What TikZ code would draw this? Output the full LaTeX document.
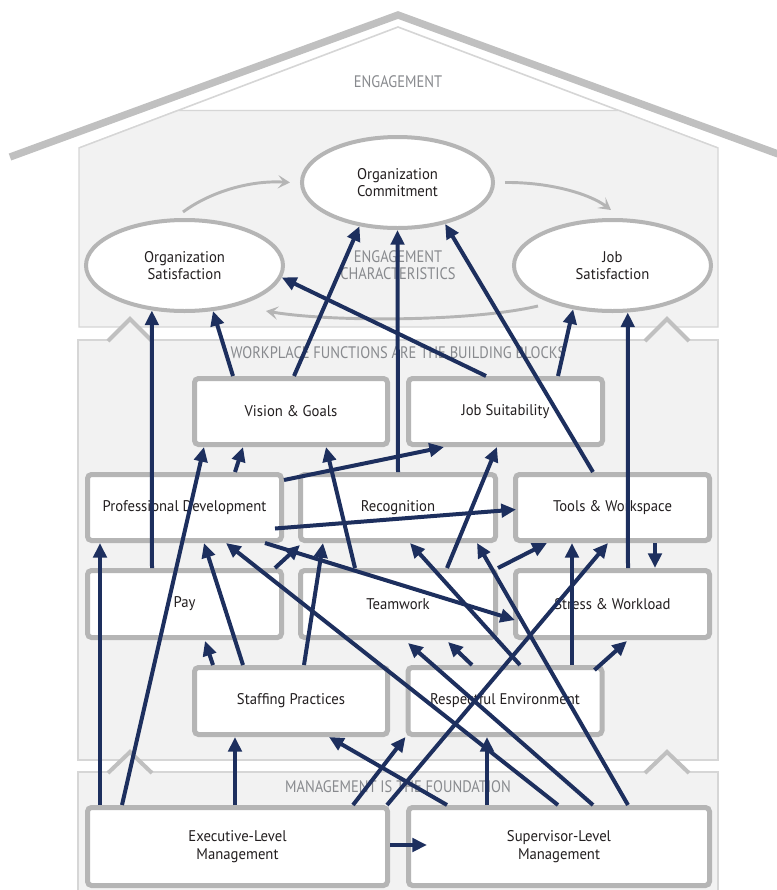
\documentclass[tikz,border=0pt]{standalone}
\usepackage{fontspec}
\setmainfont{PT Sans}[FakeStretch=0.95]
\newfontfamily\captionface{PT Sans}[FakeStretch=0.87]
\usetikzlibrary{arrows.meta,shapes.geometric}
\definecolor{navy}{HTML}{1D2F5E}
\definecolor{boxgray}{HTML}{B5B5B5}
\definecolor{panelfill}{HTML}{F2F2F2}
\definecolor{panelline}{HTML}{D6D6D6}
\definecolor{roofgray}{HTML}{C0C0C0}
\definecolor{labelgray}{HTML}{888A8E}
\definecolor{ink}{HTML}{231F20}
\begin{document}
\begin{tikzpicture}[x=0.75pt,y=-0.75pt,
  blk/.style={draw=boxgray, line width=3.75pt, fill=white, rounded corners=3pt,
    inner sep=0pt, align=center, font=\fontsize{11.6}{13}\selectfont, text=ink,
    minimum height=49.5pt},
  oval/.style={ellipse, draw=boxgray, line width=3pt, fill=white, inner sep=0pt,
    align=center, font=\fontsize{11.6}{12.75}\selectfont, text=ink},
  arr/.style={draw=navy, line width=3pt, -{Triangle[length=11pt,width=10pt]}},
  flow/.style={draw=boxgray, line width=2.2pt, -{Stealth[length=9pt,width=10pt,inset=4pt]}},
  tag/.style={text=labelgray, font=\captionface\fontsize{12.5}{12.75}\selectfont, align=center, inner sep=0pt},
  chev/.style={draw=roofgray, line width=3pt, fill=panelfill, line join=miter}
]
\useasboundingbox (0,0) rectangle (776,890);
\fill[white] (0,0) rectangle (776,890);

% roof
\draw[roofgray, line width=5.5pt] (10,157) -- (398,15) -- (800,162);
\draw[panelline, line width=1.2pt] (79,148) -- (398,27) -- (718,148);

% panels
\filldraw[fill=panelfill, draw=panelline, line width=1pt]
  (79,148) -- (178,110.5) -- (619,110.5) -- (718,148) -- (718,327) -- (79,327) -- cycle;
\filldraw[fill=panelfill, draw=panelline, line width=1pt] (78,340) rectangle (718,760);
\filldraw[fill=panelfill, draw=panelline, line width=1pt] (78,772) rectangle (718,895);

% joints between the panels
\filldraw[chev] (108,341) -- (130,319) -- (152,341);
\filldraw[chev] (645,341) -- (667,319) -- (689,341);
\filldraw[chev] (108,773) -- (130,752) -- (152,773);
\filldraw[chev] (645,773) -- (667,752) -- (689,773);

% panel captions
\node[tag] (lbleng) at (398,82) {ENGAGEMENT};
\node[tag] (lblchar) at (398,265.5) {ENGAGEMENT\\CHARACTERISTICS};
\node[tag] (lblwork) at (398,353) {WORKPLACE FUNCTIONS ARE THE BUILDING BLOCKS};
\node[tag] (lblmgmt) at (398,787) {MANAGEMENT IS THE FOUNDATION};

% engagement characteristics
\node[oval, minimum width=143.25pt, minimum height=68.25pt] (com) at (397.5,182.5) {Organization\\Commitment};
\node[oval, minimum width=147.75pt, minimum height=68.25pt] (osat) at (184.5,265.5) {Organization\\Satisfaction};
\node[oval, minimum width=147.75pt, minimum height=68.25pt] (jsat) at (612.5,265.5) {Job\\Satisfaction};

\draw[flow] ([shift={(-1.5,-6)}]osat.north) .. controls (210,192) and (250,180) .. ([shift={(-10,0)}]com.west);
\draw[flow] ([shift={(10,0)}]com.east) .. controls (550,182) and (590,194) .. ([shift={(-1.5,-8)}]jsat.north);
\draw[flow] ([shift={(-74.5,-7)}]jsat.south) .. controls (470,322) and (330,322) .. ([shift={(81.5,-2)}]osat.south);

% workplace functions
\node[blk, minimum width=144.75pt] (vis) at (291,411.5) {Vision \& Goals};
\node[blk, minimum width=145.5pt] (job) at (505.5,411.5) {Job Suitability};
\node[blk, minimum width=145.5pt] (pro) at (184.5,507.5) {Professional Development};
\node[blk, minimum width=146.25pt] (rec) at (398,507.5) {Recognition};
\node[blk, minimum width=145.5pt] (tool) at (612.5,507.5) {Tools \& Workspace};
\node[blk, minimum width=145.5pt, minimum height=50.25pt] (pay) at (184.5,604) {Pay};
\node[blk, minimum width=146.25pt, minimum height=50.25pt] (team) at (398,604) {Teamwork};
\node[blk, minimum width=145.5pt, minimum height=50.25pt] (stress) at (612.5,604) {Stress \& Workload};
\node[blk, minimum width=144.75pt, minimum height=50.25pt] (staff) at (291,701) {Staffing Practices};
\node[blk, minimum width=145.5pt, minimum height=50.25pt] (resp) at (505,701) {Respectful Environment};

% management
\node[blk, minimum width=225pt, minimum height=58.5pt] (exec) at (237.5,846.5) {Executive-Level\\Management};
\node[blk, minimum width=225.75pt, minimum height=58.5pt] (sup) at (559,846.5) {Supervisor-Level\\Management};

% links into the engagement characteristics
\draw[arr] ([shift={(-32.5,0)}]pay.north) -- (osat.-126);
\draw[arr] ([shift={(-58,0)}]vis.north) -- (osat.-58);
\draw[arr] ([shift={(-19.5,0)}]job.north) -- (osat.-7);
\draw[arr] ([shift={(3,0)}]vis.north) -- (com.-131);
\draw[arr] (rec.north) -- (com.south);
\draw[arr] ([shift={(-19.5,0)}]tool.north) -- (com.-41);
\draw[arr] ([shift={(52.5,0)}]job.north) -- (jsat.-132);
\draw[arr] ([shift={(15.5,0)}]stress.north) -- (jsat.-72);

% links into vision & goals and job suitability
\draw[arr] ([shift={(-115.5,0)}]exec.north) -- ([shift={(-87,0)}]vis.south);
\draw[arr] ([shift={(50.5,0)}]pro.north) -- ([shift={(-48,0)}]vis.south);
\draw[arr] ([shift={(-43,0)}]team.north) -- ([shift={(35,0)}]vis.south);
\draw[arr] ([shift={(0,8)}]pro.north east) -- ([shift={(-61.5,0)}]job.south);
\draw[arr] ([shift={(49,0)}]team.north) -- ([shift={(-8.5,0)}]job.south);

% links into professional development
\draw[arr] ([shift={(-137.5,0)}]exec.north) -- ([shift={(-84.5,0)}]pro.south);
\draw[arr] ([shift={(-48,0)}]staff.north) -- ([shift={(19.5,0)}]pro.south);
\draw[arr] ([shift={(-1,0)}]sup.north) -- ([shift={(41.5,0)}]pro.south);

% links out of professional development
\draw[arr] ([shift={(80.5,0)}]pro.south) -- ([shift={(2,16)}]stress.west);
\draw[arr] ([shift={(-9,21)}]pro.east) -- ([shift={(3,2)}]tool.west);

% links into recognition
\draw[arr] ([shift={(-9,0)}]pay.north east) -- ([shift={(2,2)}]rec.south west);
\draw[arr] ([shift={(13,0)}]staff.north) -- ([shift={(-75,0)}]rec.south);
\draw[arr] ([shift={(15,0)}]resp.north) -- ([shift={(12,0)}]rec.south);
\draw[arr] ([shift={(69,0)}]sup.north) -- ([shift={(79,0)}]rec.south);

% links into teamwork
\draw[arr] ([shift={(34,0)}]sup.north) -- ([shift={(10,3)}]team.south);
\draw[arr] ([shift={(-33,0)}]resp.north) -- ([shift={(50,2)}]team.south);

% links into tools & workspace
\draw[arr] (team.north east) -- ([shift={(-65.5,0)}]tool.south);
\draw[arr] ([shift={(67,0)}]resp.north) -- ([shift={(-40.5,0)}]tool.south);
\draw[arr] ([shift={(149.5,0)}]exec.north) -- ([shift={(-4.5,0)}]tool.south);

% links into stress & workload
\draw[arr] ([shift={(42.5,0)}]tool.south) -- ([shift={(42.5,0)}]stress.north);
\draw[arr] ([shift={(-10,5)}]resp.north east) -- ([shift={(14.5,1)}]stress.south);

% links into pay
\draw[arr] ([shift={(-78,0)}]staff.north) -- ([shift={(20.5,1)}]pay.south);

% links into staffing practices and respectful environment
\draw[arr] ([shift={(-2.5,0)}]exec.north) -- ([shift={(-56,0)}]staff.south);
\draw[arr] ([shift={(-112,0)}]sup.north) -- ([shift={(38,0)}]staff.south);
\draw[arr] ([shift={(115.5,0)}]exec.north) -- (resp.south west);
\draw[arr] ([shift={(-72,0)}]sup.north) -- ([shift={(-18,0)}]resp.south);

% executive to supervisor
\draw[arr] ([shift={(0,-1.5)}]exec.east) -- ([shift={(21,-1.5)}]sup.west);
\end{tikzpicture}
\end{document}
